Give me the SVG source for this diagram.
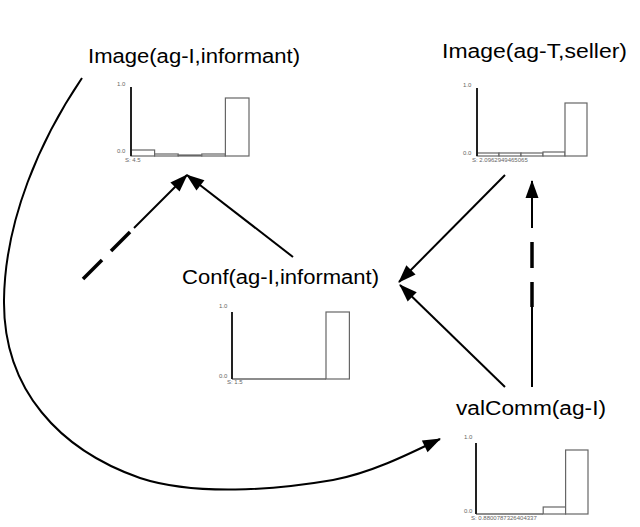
<svg xmlns="http://www.w3.org/2000/svg" width="640" height="527" viewBox="0 0 640 527">
<style>
.lbl{font-family:"Liberation Sans",Arial,sans-serif;font-size:20px;fill:#000}
.tick{font-family:"Liberation Sans",Arial,sans-serif;font-size:6px;fill:#666}
.axis{stroke:#222;stroke-width:2;fill:none}
.bar{fill:#fff;stroke:#666;stroke-width:1.2}
.edge{stroke:#000;stroke-width:2;fill:none}
.dash{stroke:#000;stroke-width:3.5;fill:none}
</style>
<defs>
<marker id="ah" markerUnits="userSpaceOnUse" markerWidth="18" markerHeight="13" refX="17" refY="6.5" orient="auto" overflow="visible">
<path d="M0,0 L18,6.5 L0,13 z" fill="#000"/>
</marker>
</defs>
<rect width="640" height="527" fill="#fff"/>

<g id="node-image-informant">
<text class="lbl" x="88" y="63" textLength="212" lengthAdjust="spacingAndGlyphs">Image(ag-I,informant)</text>
<rect class="bar" x="131" y="150" width="23.6" height="6"/>
<rect class="bar" x="154.6" y="154" width="23.6" height="2"/>
<rect class="bar" x="178.2" y="155" width="23.6" height="1"/>
<rect class="bar" x="201.8" y="154" width="23.6" height="2"/>
<rect class="bar" x="225.4" y="98" width="23.6" height="58"/>
<line class="axis" x1="131" y1="87" x2="131" y2="156"/>
<text class="tick" x="117" y="86">1.0</text>
<text class="tick" x="117" y="153">0.0</text>
<text class="tick" x="125" y="162">S: 4.5</text>
</g>

<g id="node-image-seller">
<text class="lbl" x="442" y="58" textLength="185" lengthAdjust="spacingAndGlyphs">Image(ag-T,seller)</text>
<rect class="bar" x="477" y="153" width="22" height="3"/>
<rect class="bar" x="499" y="153" width="22" height="3"/>
<rect class="bar" x="521" y="153" width="22" height="3"/>
<rect class="bar" x="543" y="152" width="22" height="4"/>
<rect class="bar" x="565" y="103" width="22" height="53"/>
<line class="axis" x1="477" y1="88" x2="477" y2="156"/>
<text class="tick" x="463" y="87">1.0</text>
<text class="tick" x="463" y="155">0.0</text>
<text class="tick" x="472" y="162">S: 2.0962949465065</text>
</g>

<g id="node-conf">
<text class="lbl" x="182" y="284" textLength="197" lengthAdjust="spacingAndGlyphs">Conf(ag-I,informant)</text>
<line x1="232" y1="379" x2="326" y2="379" stroke="#666" stroke-width="1.5"/>
<rect class="bar" x="326" y="312" width="23.4" height="67"/>
<line class="axis" x1="232" y1="312" x2="232" y2="379"/>
<text class="tick" x="219" y="308">1.0</text>
<text class="tick" x="219" y="378">0.0</text>
<text class="tick" x="227" y="384">S: 1.5</text>
</g>

<g id="node-valcomm">
<text class="lbl" x="456" y="415" textLength="150" lengthAdjust="spacingAndGlyphs">valComm(ag-I)</text>
<line x1="476" y1="514" x2="543" y2="514" stroke="#666" stroke-width="1.5"/>
<rect class="bar" x="543.2" y="507" width="22.4" height="7"/>
<rect class="bar" x="565.6" y="450" width="22.4" height="64"/>
<line class="axis" x1="476" y1="443" x2="476" y2="514"/>
<text class="tick" x="464" y="439">1.0</text>
<text class="tick" x="464" y="513">0.0</text>
<text class="tick" x="471" y="520">S: 0.8800787326404337</text>
</g>

<g id="connectors">
<path class="edge" d="M82,78 C40,140 5,220 4,300 C3,390 60,450 140,478 C195,496 275,490 333,480 C370,473 405,456 440,439" marker-end="url(#ah)"/>
<line class="dash" x1="83" y1="279" x2="102" y2="260"/>
<line class="dash" x1="111" y1="251" x2="130" y2="232"/>
<line class="edge" x1="134" y1="228" x2="187" y2="175" marker-end="url(#ah)"/>
<line class="edge" x1="293" y1="257" x2="187" y2="175" marker-end="url(#ah)"/>
<line class="edge" x1="505" y1="175" x2="399" y2="282" marker-end="url(#ah)"/>
<line class="edge" x1="505" y1="387" x2="400" y2="285" marker-end="url(#ah)"/>
<line class="edge" x1="532" y1="387" x2="532" y2="306"/>
<line class="dash" x1="532" y1="307" x2="532" y2="282"/>
<line class="dash" x1="532" y1="268" x2="532" y2="242"/>
<line class="edge" x1="532" y1="228" x2="532" y2="181" marker-end="url(#ah)"/>
</g>
</svg>
